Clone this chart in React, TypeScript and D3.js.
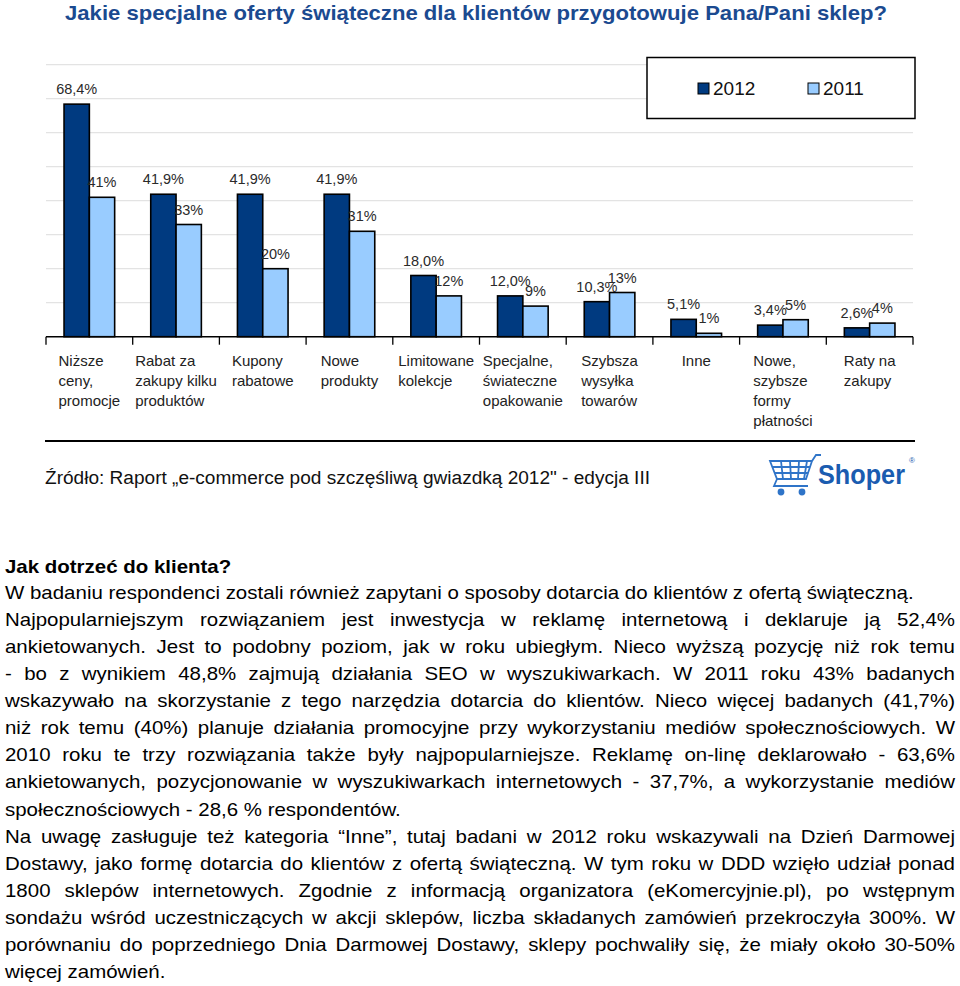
import React, { useEffect, useRef } from "react";
import * as d3 from "d3";

const title = "Jakie specjalne oferty świąteczne dla klientów przygotowuje Pana/Pani sklep?";
const categories = ["Niższe ceny", "Rabat", "Kupony", "Nowe produkty", "Limitowane", "Specjalne", "Szybsza", "Inne", "Nowe formy", "Raty"];
const categoryLines = [
  ["Niższe", "ceny,", "promocje"],
  ["Rabat za", "zakupy kilku", "produktów"],
  ["Kupony", "rabatowe"],
  ["Nowe", "produkty"],
  ["Limitowane", "kolekcje"],
  ["Specjalne,", "świateczne", "opakowanie"],
  ["Szybsza", "wysyłka", "towarów"],
  ["Inne"],
  ["Nowe,", "szybsze", "formy", "płatności"],
  ["Raty na", "zakupy"],
];
const seriesNames = ["2012", "2011"];
const values2012 = [68.4, 41.9, 41.9, 41.9, 18.0, 12.0, 10.3, 5.1, 3.4, 2.6];
const values2011 = [41, 33, 20, 31, 12, 9, 13, 1, 5, 4];
const labels2012 = ["68,4%", "41,9%", "41,9%", "41,9%", "18,0%", "12,0%", "10,3%", "5,1%", "3,4%", "2,6%"];
const labels2011 = ["41%", "33%", "20%", "31%", "12%", "9%", "13%", "1%", "5%", "4%"];
const gridValues = [10, 20, 30, 40, 50, 60, 70, 80];
const sourceText = "Źródło: Raport „e-commerce pod szczęśliwą gwiazdką 2012\" - edycja III";
const heading = "Jak dotrzeć do klienta?";
const paragraphLines: [string, boolean][] = [
  ["W badaniu respondenci zostali również zapytani o sposoby dotarcia do klientów z ofertą świąteczną.", false],
  ["Najpopularniejszym rozwiązaniem jest inwestycja w reklamę internetową i deklaruje ją 52,4%", true],
  ["ankietowanych. Jest to podobny poziom, jak w roku ubiegłym. Nieco wyższą pozycję niż rok temu", true],
  ["- bo z wynikiem 48,8% zajmują działania SEO w wyszukiwarkach. W 2011 roku 43% badanych", true],
  ["wskazywało na skorzystanie z tego narzędzia dotarcia do klientów. Nieco więcej badanych (41,7%)", true],
  ["niż rok temu (40%) planuje działania promocyjne przy wykorzystaniu mediów społecznościowych. W", true],
  ["2010 roku te trzy rozwiązania także były najpopularniejsze. Reklamę  on-linę deklarowało - 63,6%", true],
  ["ankietowanych, pozycjonowanie w wyszukiwarkach internetowych - 37,7%, a wykorzystanie mediów", true],
  ["społecznościowych - 28,6 % respondentów.", false],
  ["Na uwagę zasługuje też kategoria “Inne”, tutaj badani w 2012 roku wskazywali na Dzień Darmowej", true],
  ["Dostawy, jako formę dotarcia do klientów z ofertą świąteczną. W tym roku w DDD wzięło udział ponad", true],
  ["1800 sklepów internetowych. Zgodnie z informacją organizatora (eKomercyjnie.pl), po wstępnym", true],
  ["sondażu wśród uczestniczących w akcji sklepów, liczba składanych zamówień przekroczyła 300%. W", true],
  ["porównaniu do poprzedniego Dnia Darmowej Dostawy, sklepy pochwaliły się, że miały około 30-50%", true],
  ["więcej zamówień.", false],
];

const FONT = "'Liberation Sans', Arial, sans-serif";
const COLORS = ["#003a80", "#99ccff"];

export default function App() {
  const ref = useRef<SVGSVGElement>(null);

  useEffect(() => {
    const svg = d3.select(ref.current);
    svg.selectAll("*").remove();
    svg.append("rect").attr("width", 960).attr("height", 986).attr("fill", "#fff");

    // Title
    svg.append("text")
      .attr("x", 476).attr("y", 20)
      .attr("text-anchor", "middle")
      .attr("font-family", FONT).attr("font-weight", "bold").attr("font-size", 20.5)
      .attr("fill", "#1b4a90")
      .attr("textLength", 822).attr("lengthAdjust", "spacingAndGlyphs")
      .text(title);

    const left = 46, right = 913, base = 336.7;
    const y = d3.scaleLinear().domain([0, 80]).range([base, base - 80 * 3.4]);
    const x = d3.scaleBand<string>().domain(categories).range([left, right]).paddingInner(0).paddingOuter(0);
    const xs = d3.scaleBand<string>().domain(seriesNames).range([0, x.bandwidth()]).paddingInner(0).paddingOuter(0.713);

    // Gridlines
    svg.append("g").selectAll("line").data(gridValues).join("line")
      .attr("x1", left).attr("x2", right)
      .attr("y1", (d) => y(d)).attr("y2", (d) => y(d))
      .attr("stroke", "#e3e3e3").attr("stroke-width", 1.2);

    // Legend
    const lg = svg.append("g");
    lg.append("rect").attr("x", 647).attr("y", 57.5).attr("width", 268).attr("height", 61)
      .attr("fill", "#fff").attr("stroke", "#000").attr("stroke-width", 1.5);
    const legendX = [698, 808];
    seriesNames.forEach((s, i) => {
      lg.append("rect").attr("x", legendX[i]).attr("y", 83).attr("width", 11).attr("height", 11)
        .attr("fill", COLORS[i]).attr("stroke", "#000").attr("stroke-width", 1);
      lg.append("text").attr("x", legendX[i] + 15).attr("y", 95)
        .attr("font-family", FONT).attr("font-size", 19).attr("fill", "#111").text(s);
    });

    // Bars
    const data = categories.map((c, i) => ({ c, vals: [values2012[i], values2011[i]], labs: [labels2012[i], labels2011[i]] }));
    const groups = svg.append("g").selectAll("g").data(data).join("g")
      .attr("transform", (d) => `translate(${x(d.c)},0)`);
    seriesNames.forEach((s, si) => {
      groups.append("rect")
        .attr("x", xs(s)!)
        .attr("y", (d) => y(d.vals[si]))
        .attr("width", xs.bandwidth())
        .attr("height", (d) => base - y(d.vals[si]))
        .attr("fill", COLORS[si]).attr("stroke", "#000").attr("stroke-width", 1.6);
    });
    seriesNames.forEach((s, si) => {
      groups.append("text")
        .attr("x", xs(s)! + xs.bandwidth() / 2)
        .attr("y", (d) => y(d.vals[si]) - 10)
        .attr("text-anchor", "middle")
        .attr("font-family", FONT).attr("font-size", 14.5).attr("fill", "#2a2a2a")
        .text((d) => d.labs[si]);
    });

    // Axis baseline + ticks
    svg.append("line").attr("x1", left).attr("x2", right).attr("y1", base).attr("y2", base)
      .attr("stroke", "#000").attr("stroke-width", 1.5);
    const tickPos = categories.map((c) => x(c)!).concat([right]);
    svg.append("g").selectAll("line").data(tickPos).join("line")
      .attr("x1", (d) => d).attr("x2", (d) => d).attr("y1", base).attr("y2", base + 8)
      .attr("stroke", "#000").attr("stroke-width", 1.3);

    // Category labels
    categories.forEach((c, i) => {
      const g = svg.append("g");
      const texts = categoryLines[i].map((line, li) =>
        g.append("text").attr("y", 366 + li * 20)
          .attr("font-family", FONT).attr("font-size", 15).attr("fill", "#222").text(line)
      );
      const maxW = d3.max(texts, (t) => (t.node() as SVGTextElement).getComputedTextLength()) || 0;
      const cx = x(c)! + x.bandwidth() / 2;
      texts.forEach((t) => t.attr("x", cx - maxW / 2));
    });

    // Separator and source
    svg.append("line").attr("x1", 45).attr("x2", 915).attr("y1", 441).attr("y2", 441)
      .attr("stroke", "#000").attr("stroke-width", 2);
    svg.append("text").attr("x", 45).attr("y", 484)
      .attr("font-family", FONT).attr("font-size", 18).attr("fill", "#111")
      .attr("textLength", 605).attr("lengthAdjust", "spacingAndGlyphs")
      .text(sourceText);

    // Shoper logo
    const logo = svg.append("g").attr("fill", "none").attr("stroke", "#2f74c8").attr("stroke-width", 1.8);
    logo.append("path").attr("d", "M770,461 L812,461 L806,479 L777,479 Z");
    logo.append("path").attr("d", "M772,467 L810,467 M774,473 L808,473");
    logo.append("path").attr("d", "M781,461 L783,479 M790,461 L791,479 M799,461 L798,479 M807,461 L804,479");
    logo.append("path").attr("d", "M812,461 L816,455 L821,455 M777,479 L774,486 L808,486");
    logo.append("circle").attr("cx", 781).attr("cy", 492).attr("r", 2.5).attr("fill", "#2f74c8");
    logo.append("circle").attr("cx", 802).attr("cy", 492).attr("r", 2.5).attr("fill", "#2f74c8");
    svg.append("text").attr("x", 818).attr("y", 484)
      .attr("font-family", FONT).attr("font-weight", "bold").attr("font-size", 28).attr("fill", "#1a5cb0")
      .attr("textLength", 87).attr("lengthAdjust", "spacingAndGlyphs").text("Shoper");
    svg.append("text").attr("x", 909).attr("y", 463)
      .attr("font-family", FONT).attr("font-size", 8).attr("fill", "#1a5cb0").text("®");

    // Paragraph (horizontally scaled to match the reference's wider text)
    const FS = 18;
    const x0 = 5, x1 = 955;
    const probe = svg.append("text").attr("font-family", FONT).attr("font-size", FS).text(paragraphLines[0][0]);
    const w0 = (probe.node() as SVGTextElement).getComputedTextLength();
    probe.remove();
    const sx = 909 / w0;
    const pg = svg.append("g").attr("font-family", FONT).attr("fill", "#000")
      .attr("transform", `scale(${sx},1)`);
    pg.append("text").attr("x", x0 / sx).attr("y", 573).attr("font-size", FS).attr("font-weight", "bold").text(heading);
    paragraphLines.forEach(([line, justify], i) => {
      const yy = 599 + i * 27.07;
      if (!justify) {
        pg.append("text").attr("x", x0 / sx).attr("y", yy).attr("font-size", FS).text(line);
        return;
      }
      const words = line.split(" ").filter((w) => w.length > 0);
      const nodes = words.map((w) => pg.append("text").attr("y", yy).attr("font-size", FS).text(w));
      const widths = nodes.map((n) => (n.node() as SVGTextElement).getComputedTextLength());
      const total = d3.sum(widths);
      const span = (x1 - x0) / sx;
      const gap = (span - total) / (words.length - 1);
      let cur = x0 / sx;
      nodes.forEach((n, k) => {
        n.attr("x", cur);
        cur += widths[k] + gap;
      });
    });
  }, []);

  return (
    <svg ref={ref} width={960} height={986}
      style={{ position: "absolute", left: 0, top: 0, display: "block" }} />
  );
}
